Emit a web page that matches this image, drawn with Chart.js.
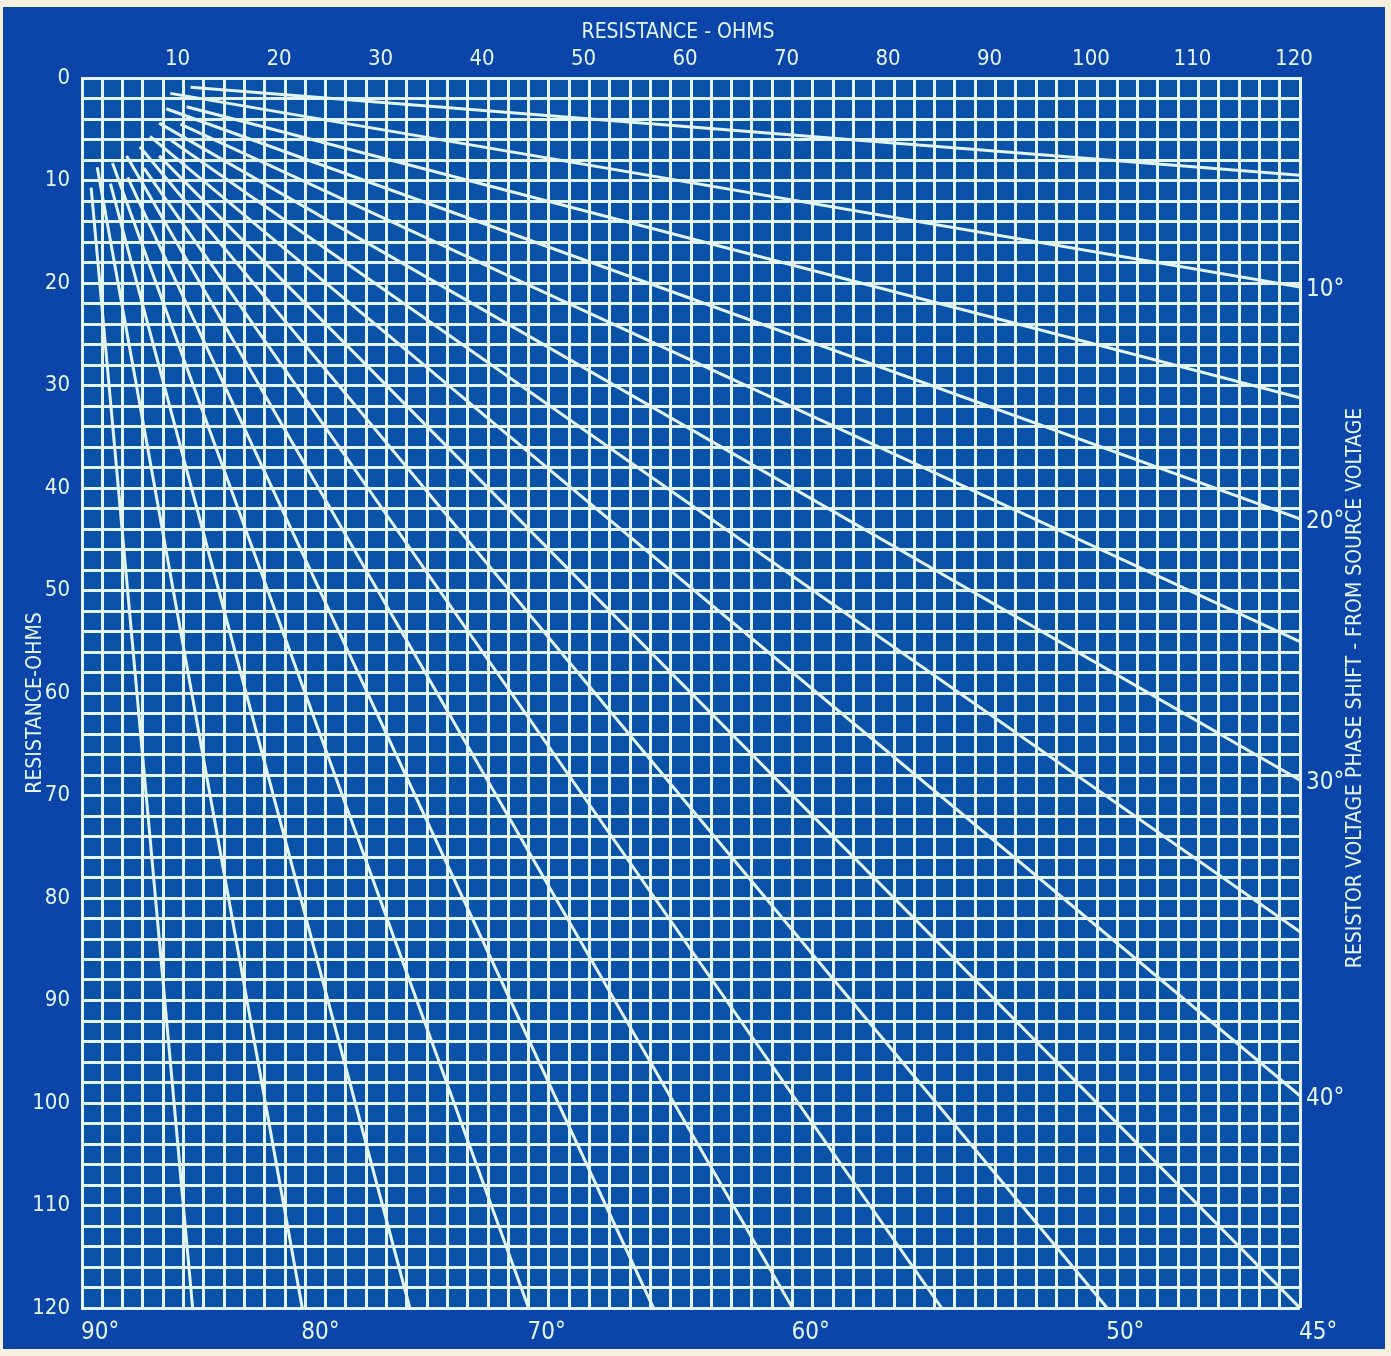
<!DOCTYPE html>
<html>
<head>
<meta charset="utf-8">
<script src="https://cdn.jsdelivr.net/npm/chart.js@4"></script>
<style>
html,body{margin:0;padding:0;background:#f6f0df;}
#wrap{width:1391px;height:1356px;position:relative;}
</style>
</head>
<body>
<div id="wrap"><canvas id="chartCanvas" width="1391" height="1356"></canvas></div>
<script>
// phase angle of each line, degrees
const angles = [5,10,15,20,25,30,35,40,45,50,55,60,65,70,75,80,85];

// where each line starts near the corner (ohms)
const startX = [10.7,8.7,10.3,8.3,9.7,7.6,8.8,6.7,7.6,5.7,6.1,4.4,4.5,3.0,2.8,1.5,0.9];
const startY = [0.9,1.5,2.8,3.0,4.5,4.4,6.1,5.7,7.6,6.7,8.8,7.6,9.7,8.3,10.3,8.7,10.7];

// where each line meets the right or bottom edge (ohms)
const endX = [120,120,120,120,120,120,120,120,120,101,84.7,70,56.3,44,32.3,21.7,10.9];
const endY = [9.5,20.4,31.2,43,55,68.5,83.3,99.3,120,120,120,120,120,120,120,120,120];

// angle labels
const rightLabels = ["10°","20°","30°","40°"];
const rightLabelY = [20.4,43,68.5,99.3];
const bottomLabels = ["90°","80°","70°","60°","50°","45°"];
const bottomLabelX = [0,21.7,44,70,101,120];

const ink = "#e2f5f0";
const panel = "#0c45aa";
const field = "#0a52a8";
const numFont = {family:"'DejaVu Sans Condensed',sans-serif", size:22};
const titleFont = "21px 'DejaVu Sans Condensed',sans-serif";

const datasets = angles.map((a,i) => ({
    label: a + "°",
    data: [{x:startX[i], y:startY[i]}, {x:endX[i], y:endY[i]}],
    showLine: true,
    tension: 0,
    borderColor: ink,
    borderWidth: 3,
    pointRadius: 0,
    fill: false
}));

const blueprint = {
    id: "blueprint",
    beforeDraw(chart){
        const c = chart.ctx;
        const a = chart.chartArea;
        c.save();
        c.fillStyle = "#f6f0df";
        c.fillRect(0,0,chart.width,chart.height);
        c.fillStyle = panel;
        c.fillRect(3,7,1382,1342);
        c.fillStyle = field;
        c.fillRect(a.left,a.top,a.right-a.left,a.bottom-a.top);
        c.restore();
    },
    afterDraw(chart){
        const c = chart.ctx;
        const xs = chart.scales.x;
        const ys = chart.scales.y;
        c.save();
        c.fillStyle = ink;
        c.font = titleFont;
        c.textAlign = "center";
        c.textBaseline = "middle";
        c.fillText("RESISTANCE - OHMS", 678, 33);

        c.save();
        c.translate(36, 703);
        c.rotate(-Math.PI/2);
        c.fillText("RESISTANCE-OHMS", 0, 0);
        c.restore();

        c.save();
        c.translate(1356, 688);
        c.rotate(-Math.PI/2);
        c.fillText("RESISTOR VOLTAGE PHASE SHIFT - FROM SOURCE VOLTAGE", 0, 0);
        c.restore();

        c.font = "24px 'DejaVu Sans Condensed',sans-serif";
        c.textAlign = "left";
        rightLabels.forEach((t,i) => {
            c.fillText(t, xs.right + 6, ys.getPixelForValue(rightLabelY[i]) + 3);
        });
        bottomLabels.forEach((t,i) => {
            c.fillText(t, xs.getPixelForValue(bottomLabelX[i]) - 1, ys.bottom + 25);
        });
        c.restore();
    }
};

new Chart(document.getElementById("chartCanvas"), {
    type: "scatter",
    data: { datasets: datasets },
    options: {
        responsive: false,
        animation: false,
        layout: { padding: { left:0, top:0, right:91, bottom:48 } },
        plugins: { legend:{display:false}, tooltip:{enabled:false} },
        scales: {
            x: {
                type: "linear",
                position: "top",
                min: 0, max: 120,
                afterFit(s){ s.height = 78; },
                ticks: {
                    stepSize: 2, autoSkip: false, maxRotation: 0,
                    color: ink, font: numFont, padding: 6, labelOffset: -6,
                    callback: v => (v % 10 === 0 && v > 0) ? v : ""
                },
                grid: { color: ink, lineWidth: 3, drawTicks: false },
                border: { color: ink, width: 3 }
            },
            y: {
                type: "linear",
                reverse: true,
                min: 0, max: 120,
                afterFit(s){ s.width = 82; },
                ticks: {
                    stepSize: 2, autoSkip: false,
                    color: ink, font: numFont, padding: 12,
                    callback: v => (v % 10 === 0) ? v : ""
                },
                grid: { color: ink, lineWidth: 3, drawTicks: false },
                border: { color: ink, width: 3 }
            }
        }
    },
    plugins: [blueprint]
});
</script>
</body>
</html>
